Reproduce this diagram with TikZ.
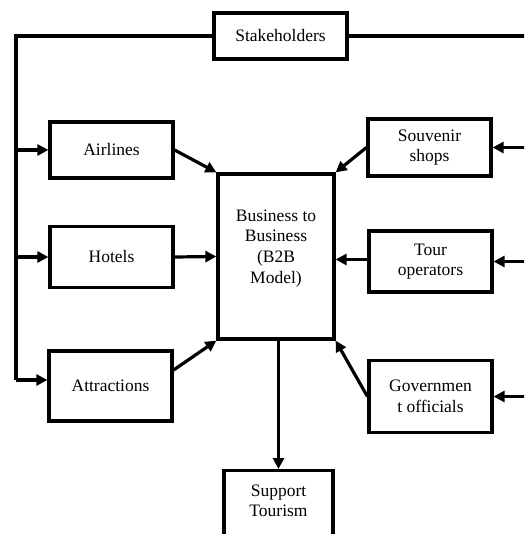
\documentclass[tikz,border=0pt]{standalone}
\usepackage{fontspec}
\setmainfont{Liberation Serif}
\usetikzlibrary{arrows.meta,calc}
\begin{document}
\begin{tikzpicture}[x=1pt,y=-1pt,
  box/.style={draw,line width=3.2pt,align=center,inner sep=0pt,
    font=\fontsize{17.5}{20.6}\selectfont},
  conn/.style={line width=3.2pt},
  arr/.style={conn,-{Triangle[length=11pt,width=11pt]}}]
\useasboundingbox (0,0) rectangle (524,534);
\clip (0,0) rectangle (524,534);
\node[box,minimum width=133,minimum height=46] (stake) at (280.5,36) {Stakeholders};
\node[box,minimum width=123,minimum height=56] (air) at (111.5,150) {Airlines};
\node[box,minimum width=123,minimum height=61] (hot) at (111.5,257) {Hotels};
\node[box,minimum width=123,minimum height=70] (attr) at (110.5,386) {Attractions};
\node[box,minimum width=116,minimum height=165,text depth=20pt] (b2b) at (276,256.5) {Business to\\Business\\(B2B\\Model)};
\node[box,minimum width=123,minimum height=57] (souv) at (429.5,147.5) {Souvenir\\shops};
\node[box,minimum width=123,minimum height=61] (tour) at (430.5,261.5) {Tour\\operators};
\node[box,minimum width=123,minimum height=72] (gov) at (430.5,396.5) {Governmen\\t officials};
\node[box,minimum width=109,minimum height=90,anchor=north,text depth=30pt] (sup) at (278.5,469) {Support\\Tourism};
% left bracket
\coordinate (lt) at (16,36);
\coordinate (lb) at (16,380);
\draw[conn] (stake.west) -- (lt) -- (lb);
\draw[arr] (lb) -- ($(attr.west)+(0,-6)$);
\draw[arr] (lt |- air.west) -- (air.west);
\draw[arr] (lt |- hot.west) -- (hot.west);
% right bracket
\coordinate (rt) at (532,36);
\coordinate (rb) at (532,400);
\draw[conn] (stake.east) -- (rt) -- (rb);
\draw[arr] (rt |- souv.east) -- (souv.east);
\draw[arr] (rt |- tour.east) -- (tour.east);
\draw[arr] (rt |- gov.east) -- (gov.east);
% into B2B
\draw[arr] (air.east) -- (b2b.north west);
\draw[arr] (hot.east) -- (b2b.west);
\draw[arr] ($(attr.east)+(0,-16)$) -- (b2b.south west);
\draw[arr] (souv.west) -- (b2b.north east);
\draw[arr] ($(tour.west)+(0,-2)$) -- ($(tour.west -| b2b.east)+(0,-2)$);
\draw[arr] (gov.west) -- (b2b.south east);
\draw[arr] (sup.north |- b2b.south) -- (sup.north);
\end{tikzpicture}
\end{document}
